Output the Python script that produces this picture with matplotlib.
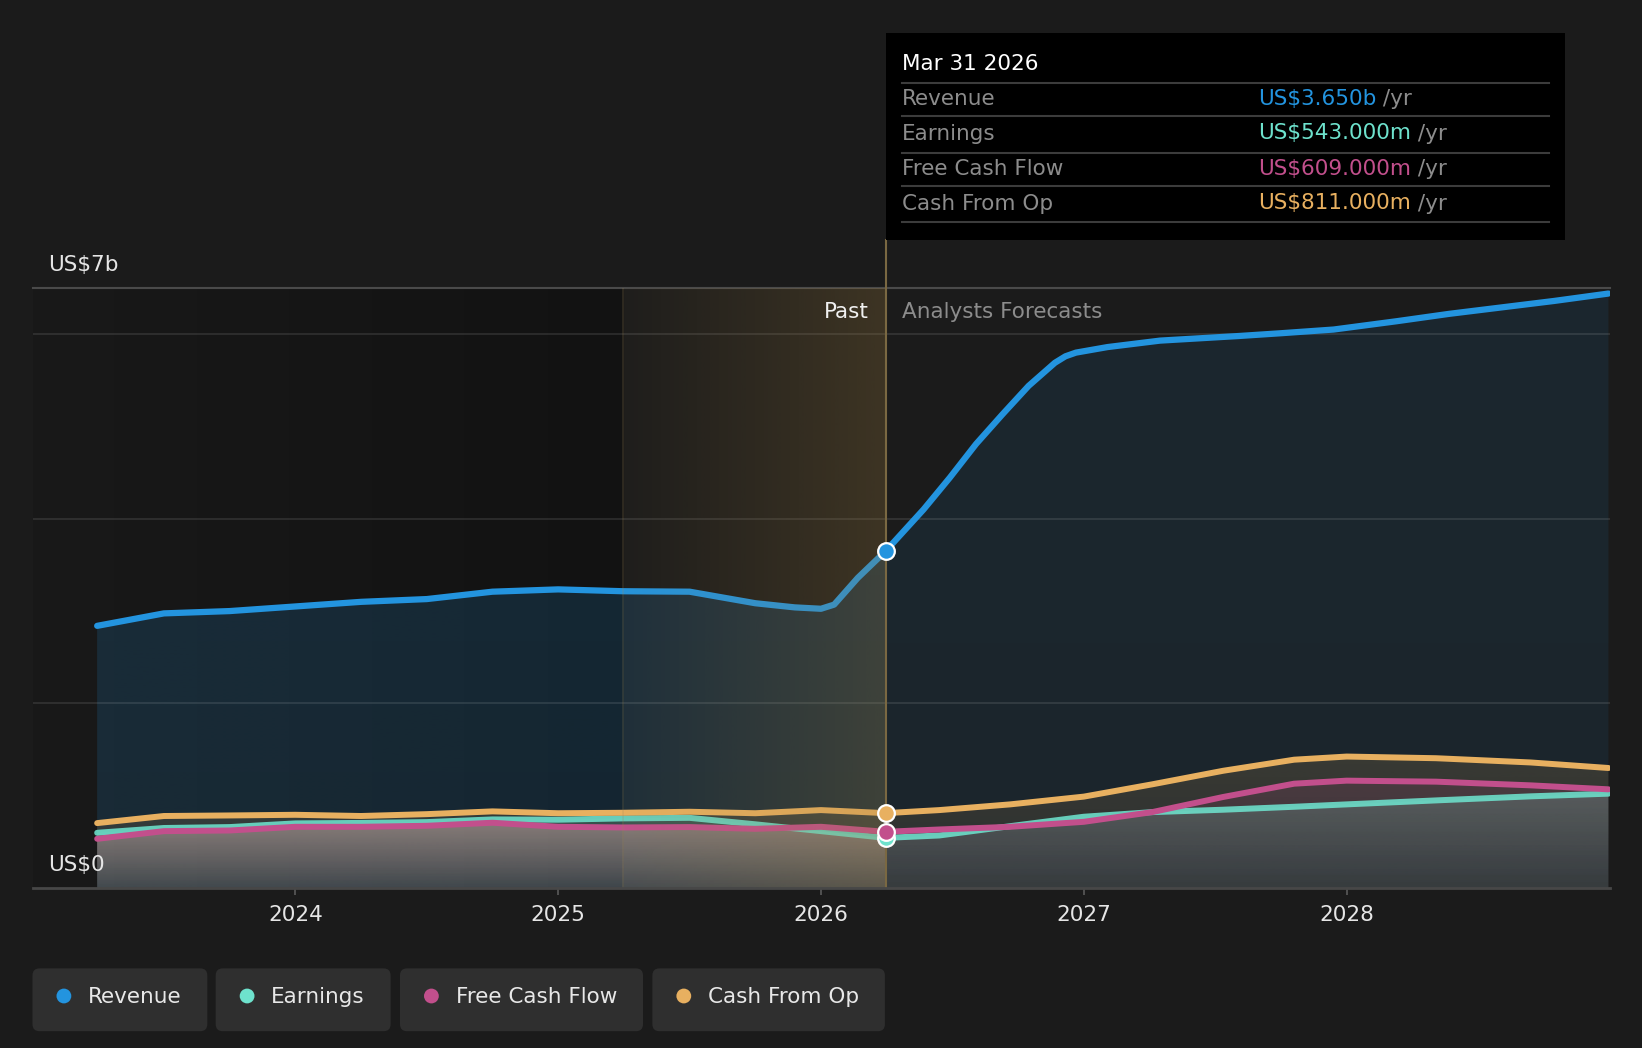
import numpy as np
import matplotlib
matplotlib.use("Agg")
import matplotlib.pyplot as plt
from matplotlib.patches import Polygon, Rectangle, FancyBboxPatch, Circle
from matplotlib.colors import to_rgb
import matplotlib.transforms as mtransforms

# ---------------- data (values in US$ billions, time in decimal years) ----------------
rev_t = [2023.246, 2023.5, 2023.75, 2024.0, 2024.25, 2024.5, 2024.75, 2025.0, 2025.246,
         2025.5, 2025.6, 2025.75, 2025.9, 2026.0, 2026.05, 2026.14, 2026.246,
         2026.39, 2026.49, 2026.59, 2026.69, 2026.79, 2026.89, 2026.93, 2026.97, 2027.09,
         2027.29, 2027.59, 2027.75, 2027.95, 2028.19, 2028.39, 2028.59, 2028.79, 2028.996]
revenue = [2.84, 2.975, 3.00, 3.05, 3.10, 3.13, 3.21, 3.235, 3.215,
           3.21, 3.16, 3.085, 3.04, 3.025, 3.07, 3.36, 3.65,
           4.10, 4.445, 4.81, 5.13, 5.44, 5.69, 5.76, 5.80, 5.86,
           5.93, 5.98, 6.01, 6.05, 6.14, 6.22, 6.29, 6.36, 6.44]

low_t = [2023.246, 2023.5, 2023.75, 2024.0, 2024.25, 2024.5, 2024.75, 2025.0, 2025.246,
         2025.5, 2025.75, 2026.0, 2026.246,
         2026.45, 2026.72, 2027.0, 2027.26, 2027.53, 2027.8, 2028.0, 2028.34, 2028.7, 2028.996]
earnings = [0.598, 0.65, 0.66, 0.70, 0.705, 0.714, 0.743, 0.74, 0.754,
            0.76, 0.69, 0.616, 0.543,
            0.569, 0.67, 0.772, 0.822, 0.848, 0.88, 0.906, 0.949, 0.993, 1.022]
fcf = [0.533, 0.616, 0.623, 0.663, 0.663, 0.674, 0.707, 0.663, 0.656,
       0.66, 0.641, 0.663, 0.609,
       0.634, 0.663, 0.717, 0.822, 0.986, 1.13, 1.163, 1.152, 1.112, 1.069]
cfo = [0.703, 0.78, 0.786, 0.793, 0.78, 0.80, 0.83, 0.81, 0.815,
       0.826, 0.81, 0.844, 0.811,
       0.844, 0.906, 0.99, 1.123, 1.27, 1.39, 1.424, 1.406, 1.36, 1.30]

now_t = 2026.246
past_start = 2025.246
year_ticks = [2024, 2025, 2026, 2027, 2028]
year_labels = ["2024", "2025", "2026", "2027", "2028"]
series_names = ["Revenue", "Earnings", "Free Cash Flow", "Cash From Op"]
tooltip_values = ["US$3.650b", "US$543.000m", "US$609.000m", "US$811.000m"]
tooltip_date = "Mar 31 2026"

C_REV = "#2394df"
C_EARN = "#6ee2cd"
C_FCF = "#c24f8c"
C_CFO = "#e8b060"
colors = [C_REV, C_EARN, C_FCF, C_CFO]
BG = "#1b1b1b"

# ---------------- figure ----------------
W, H = 1642, 1048
fig = plt.figure(figsize=(W / 100, H / 100), dpi=100, facecolor=BG)
ax = fig.add_axes([32.5 / W, (H - 888) / H, (1609.5 - 32.5) / W, 600 / H])
ax.set_facecolor(BG)
for s in ax.spines.values():
    s.set_visible(False)

rev_t_a = np.array(rev_t); rev_a = np.array(revenue)
low_t_a = np.array(low_t)
earn_a = np.array(earnings); fcf_a = np.array(fcf); cfo_a = np.array(cfo)


def area_patch(x, y):
    verts = [(x[0], 0)] + list(zip(x, y)) + [(x[-1], 0)]
    return Polygon(verts, closed=True, transform=ax.transData,
                   facecolor="none", edgecolor="none")


def grad_image(x0, x1, y0, y1, rgb, a_from, a_to, direction, zorder, clip=None):
    n = 256
    if direction == "v":
        img = np.zeros((n, 1, 4))
        img[:, 0, 3] = np.linspace(a_from, a_to, n)  # top -> bottom
    else:
        img = np.zeros((1, n, 4))
        img[0, :, 3] = np.linspace(a_from, a_to, n)  # left -> right
    img[..., :3] = rgb
    im = ax.imshow(img, extent=[x0, x1, y0, y1], origin="upper", aspect="auto",
                   interpolation="bilinear", zorder=zorder)
    if clip is not None:
        im.set_clip_path(clip)
    return im


# darker past background
grad_image(2023.0, past_start, 0, 6.5, (0, 0, 0), 0.08, 0.33, "h", 0.2)

# revenue fills (past brighter than forecast)
ip = list(rev_t).index(now_t)
grad_image(rev_t_a[0], now_t, 0, rev_a[:ip + 1].max(), to_rgb(C_REV), 0.17, 0.15, "v", 1.0,
           clip=area_patch(rev_t_a[:ip + 1], rev_a[:ip + 1]))
grad_image(now_t, rev_t_a[-1], 0, rev_a[ip:].max(), to_rgb(C_REV), 0.10, 0.09, "v", 1.0,
           clip=area_patch(rev_t_a[ip:], rev_a[ip:]))

# lower series fills
il = list(low_t).index(now_t)
for arr, col, zo in [(cfo_a, C_CFO, 1.1), (fcf_a, C_FCF, 1.2), (earn_a, C_EARN, 1.3)]:
    grad_image(low_t_a[0], now_t, 0, arr[:il + 1].max(), to_rgb(col), 0.15, 0.07, "v", zo,
               clip=area_patch(low_t_a[:il + 1], arr[:il + 1]))
    grad_image(now_t, low_t_a[-1], 0, arr[il:].max(), to_rgb(col), 0.15, 0.07, "v", zo,
               clip=area_patch(low_t_a[il:], arr[il:]))

low_min = np.minimum(np.minimum(earn_a, fcf_a), cfo_a)
grad_image(low_t_a[0], now_t, 0, low_min[:il + 1].max(), (0.90, 0.74, 0.68), 0.38, 0.08, "v", 1.4,
           clip=area_patch(low_t_a[:il + 1], low_min[:il + 1]))
grad_image(now_t, low_t_a[-1], 0, low_min[il:].max(), (1, 1, 1), 0.06, 0.0, "v", 1.4,
           clip=area_patch(low_t_a[il:], low_min[il:]))

# gridlines
for g in [2, 4, 6]:
    ax.axhline(g, color="white", alpha=0.11, lw=1.3, zorder=1.6)
ax.axhline(6.5, color="#4a4a4a", lw=1.5, zorder=1.6, clip_on=False)
ax.axhline(0, color="#474747", lw=2.0, zorder=5, clip_on=False)

# lines
LW = 4.3
ax.plot(rev_t_a, rev_a, color=C_REV, lw=LW + 0.2, zorder=2, solid_capstyle="round", solid_joinstyle="round")
ax.plot(low_t_a, earn_a, color=C_EARN, lw=LW, zorder=2.1, alpha=0.88, solid_capstyle="round", solid_joinstyle="round")
ax.plot(low_t_a, fcf_a, color=C_FCF, lw=LW, zorder=2.2, solid_capstyle="round", solid_joinstyle="round")
ax.plot(low_t_a, cfo_a, color=C_CFO, lw=LW, zorder=2.3, solid_capstyle="round", solid_joinstyle="round")

# past highlight (gold gradient) on top of lines
grad_image(past_start, now_t, 0, 6.5, (160 / 255, 125 / 255, 60 / 255), 0.03, 0.26, "h", 3)
ax.axvline(past_start, color="#a08a5a", alpha=0.22, lw=1.2, zorder=3.1)
blend = mtransforms.blended_transform_factory(ax.transData, ax.transAxes)
ax.plot([now_t, now_t], [0, (888 - 240) / 600], transform=blend, color="#7a6842",
        lw=1.5, zorder=3.2, clip_on=False)

# markers at "now"
for arr, t_arr, col, zo in [(rev_a, rev_t_a, C_REV, 4), (earn_a, low_t_a, C_EARN, 4.1),
                            (fcf_a, low_t_a, C_FCF, 4.2), (cfo_a, low_t_a, C_CFO, 4.3)]:
    k = list(t_arr).index(now_t)
    ax.plot([t_arr[k]], [arr[k]], "o", color=col, ms=12, mec="white", mew=1.6, zorder=zo,
            clip_on=False)

ax.set_xlim(2023.0, 2029.0)
ax.set_ylim(0, 6.5)
ax.set_yticks([])
ax.set_xticks(year_ticks)
ax.set_xticklabels(year_labels)
ax.tick_params(axis="x", colors="#555555", labelcolor="#e6e6e6", length=5, width=1.3,
               labelsize=15.5, pad=7)

# ---------------- overlay (pixel coordinates) ----------------
ov = fig.add_axes([0, 0, 1, 1], zorder=10)
ov.set_xlim(0, W)
ov.set_ylim(H, 0)
ov.axis("off")
ov.patch.set_alpha(0)

FS = 15.5
ov.text(48, 265, "US$7b", color="#e6e6e6", fontsize=FS, va="center", ha="left")
ov.text(48, 865, "US$0", color="#e6e6e6", fontsize=FS, va="center", ha="left")
ov.text(869, 312, "Past", color="#f0f0f0", fontsize=FS, va="center", ha="right")
ov.text(901.6, 312, "Analysts Forecasts", color="#8c8c8c", fontsize=FS, va="center", ha="left")

# tooltip
ov.add_patch(Rectangle((886, 32.5), 1564.5 - 886, 240 - 32.5, facecolor="#000000",
                       edgecolor="none", zorder=1))
ov.text(901.6, 63.5, tooltip_date, color="#ffffff", fontsize=FS, va="center", ha="left", zorder=2)
for yy in [82.7, 116.2, 152.9, 186.4, 222]:
    ov.plot([901.6, 1548.8], [yy, yy], color="#3c3c3c", lw=1.5, zorder=2)
row_y = [99.0, 133.5, 169.0, 203.5]
val_texts = []
for name, val, col, yy in zip(series_names, tooltip_values, colors, row_y):
    ov.text(901.6, yy, name, color="#8c8c8c", fontsize=FS, va="center", ha="left", zorder=2)
    val_texts.append(ov.text(1257.7, yy, val, color=col, fontsize=FS, va="center", ha="left", zorder=2))

# legend
boxes = [(32.5, 207.3), (215.7, 390.6), (400.0, 643.0), (652.4, 884.9)]
for (x0, x1), name, col in zip(boxes, series_names, colors):
    ov.add_patch(FancyBboxPatch((x0, 968.4), x1 - x0, 1031.2 - 968.4,
                                boxstyle="round,pad=0,rounding_size=7",
                                facecolor="#2f2f2f", edgecolor="none", zorder=1))
    ov.add_patch(Circle((x0 + 31.4, 996.0), 7.4, facecolor=col, edgecolor="none", zorder=2))
    ov.text(x0 + 55.5, 997.0, name, color="#e8e8e8", fontsize=FS, va="center", ha="left", zorder=2)

fig.canvas.draw()
renderer = fig.canvas.get_renderer()
for t, yy in zip(val_texts, row_y):
    bb = t.get_window_extent(renderer)
    ov.text(bb.x1, yy, " /yr", color="#8c8c8c", fontsize=FS, va="center", ha="left", zorder=2)

fig.savefig("out.png", dpi=100, facecolor=BG)
